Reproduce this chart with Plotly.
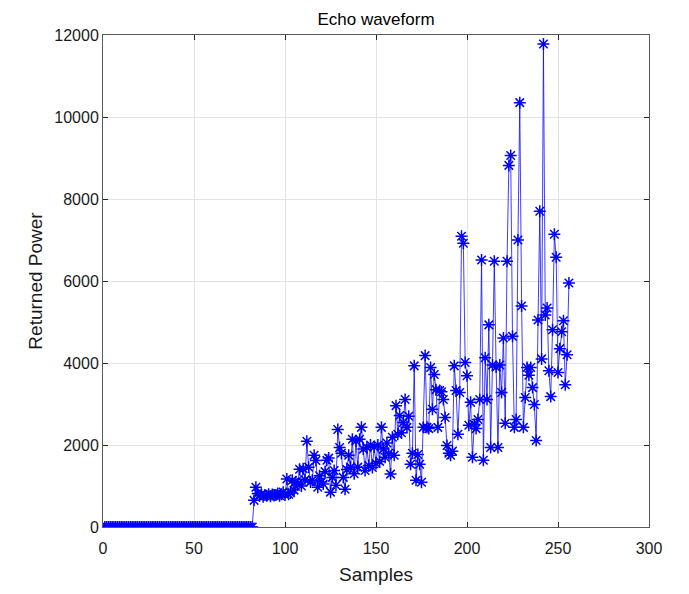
import plotly.graph_objects as go

# Leading zero section (samples 1..82)
zeros_part = [0, 0, 0, 0, 0, 0, 0, 0, 0, 0,
              0, 0, 0, 0, 0, 0, 0, 0, 0, 0,
              0, 0, 0, 0, 0, 0, 0, 0, 0, 0,
              0, 0, 0, 0, 0, 0, 0, 0, 0, 0,
              0, 0, 0, 0, 0, 0, 0, 0, 0, 0,
              0, 0, 0, 0, 0, 0, 0, 0, 0, 0,
              0, 0, 0, 0, 0, 0, 0, 0, 0, 0,
              0, 0, 0, 0, 0, 0, 0, 0, 0, 0,
              0, 0]

# samples 83..112
part_a = [650, 970, 820, 760, 800, 740, 780, 760, 800, 750,
          790, 770, 780, 820, 760, 800, 850, 780, 1170, 800,
          830, 1140, 900, 1100, 1050, 1410, 1000, 1420, 1150, 2090]

# samples 113..142
part_b = [1460, 1100, 1140, 1750, 1620, 970, 1250, 1100, 1050, 1350,
          1630, 1680, 850, 1210, 1380, 1020, 2380, 1940, 1800, 1210,
          920, 1400, 1750, 1460, 2140, 1300, 2100, 1460, 2140, 2430]

# samples 143..172
part_c = [1900, 1380, 1940, 1500, 2000, 1450, 1950, 1550, 2000, 1600,
          2430, 1900, 1700, 2050, 1800, 1290, 2190, 1750, 2960, 2260,
          2720, 2300, 2550, 3110, 2430, 2700, 1530, 1800, 3930, 1140]

# samples 173..202
part_d = [1770, 1530, 1090, 2430, 4180, 2430, 2400, 3890, 2870, 3720,
          3350, 2430, 3330, 3300, 3110, 2670, 1990, 1800, 1750, 1850,
          3930, 3330, 2260, 3280, 7090, 6920, 4010, 3690, 2480, 3040]

# samples 203..256
part_e = [1700, 2500, 2400, 2620, 3110, 6510, 1630, 4130, 3110, 4930,
          1940, 3950, 6480, 3900, 1940, 3950, 3280, 4610, 2530, 6480,
          8820, 9060, 4650, 2430, 2620, 7000, 10350, 5390, 2430, 3160,
          3890, 3700, 3890, 3400, 2990, 2110, 5050, 7700, 4100, 11780,
          5170, 5340, 3810, 3180, 4810, 7140, 6580, 3770, 4350, 4760,
          5030, 3470, 4200, 5950]

power = zeros_part + part_a + part_b + part_c + part_d + part_e
samples = list(range(1, len(power) + 1))

x_ticks = [0, 50, 100, 150, 200, 250, 300]
y_ticks = [0, 2000, 4000, 6000, 8000, 10000, 12000]

font_family = "Liberation Sans, Arial, sans-serif"

fig = go.Figure()
fig.add_trace(go.Scatter(
    x=samples, y=power, mode="lines+markers",
    line=dict(color="rgba(0,0,255,0.85)", width=0.9),
    marker=dict(symbol="asterisk-open", size=10, color="#0000ff",
                line=dict(color="#0000ff", width=1.5)),
    showlegend=False,
))

axis_common = dict(
    showgrid=True, gridcolor="#e3e3e3", gridwidth=1,
    showline=True, linecolor="#5a5a5a", linewidth=1, mirror="ticks",
    ticks="inside", ticklen=5, tickcolor="#262626", tickwidth=1,
    zeroline=False,
    tickfont=dict(family=font_family, size=16, color="#1a1a1a"),
)

fig.update_layout(
    width=681, height=586,
    margin=dict(l=95, r=40, t=27, b=65),
    paper_bgcolor="white", plot_bgcolor="white",
    title=dict(text="Echo waveform", x=0.5, xref="paper", xanchor="center",
               y=1 - 11 / 586, yref="container", yanchor="middle",
               font=dict(family=font_family, size=17, color="#000000")),
    xaxis=dict(range=[0, 300], tickvals=x_ticks, ticklabelstandoff=7,
               title=dict(text="Samples", standoff=11,
                          font=dict(family=font_family, size=19, color="#1a1a1a")),
               **axis_common),
    yaxis=dict(range=[0, 12000], tickvals=y_ticks, tickformat="d",
               title=dict(text="Returned Power", standoff=6,
                          font=dict(family=font_family, size=19, color="#1a1a1a")),
               **axis_common),
)

fig.write_html("out.html")
